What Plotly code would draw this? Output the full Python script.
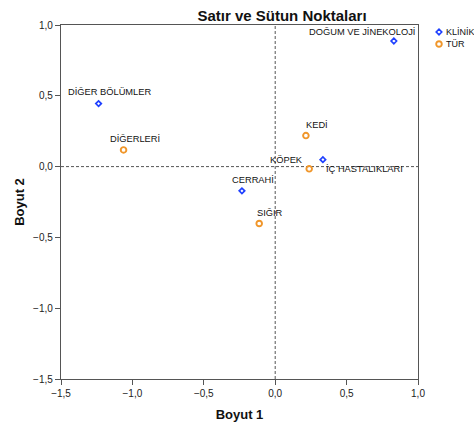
import plotly.graph_objects as go

# Correspondence analysis coordinates (dimension 1, dimension 2)
klinik_labels = ["DOĞUM VE JİNEKOLOJİ", "DİĞER BÖLÜMLER", "İÇ HASTALIKLARI", "CERRAHİ"]
klinik_dim1 = [0.831, -1.237, 0.334, -0.233]
klinik_dim2 = [0.887, 0.445, 0.049, -0.171]

tur_labels = ["DİĞERLERİ", "KEDİ", "KÖPEK", "SIĞIR"]
tur_dim1 = [-1.062, 0.215, 0.238, -0.112]
tur_dim2 = [0.118, 0.219, -0.016, -0.402]

series_names = ["KLİNİK", "TÜR"]
tick_values = [-1.5, -1.0, -0.5, 0.0, 0.5, 1.0]

# Styling
FONT = "Arial, Liberation Sans, sans-serif"
BLUE = "#1f40ff"
ORANGE = "#f0962a"
AXIS = "#555555"
W, H = 474, 426
ML, MT, MB = 61, 25, 47
PLOT_W = 357
PLOT_H = H - MT - MB

DIAMOND = dict(symbol="diamond-open", size=4.2, line_width=1.7)
CIRCLE = dict(symbol="circle-open", size=5.6, line_width=1.9)

# label anchor, horizontal shift, vertical shift (px)
LABEL_PLACEMENT = {
    "DOĞUM VE JİNEKOLOJİ": ("right", 23, 9),
    "DİĞER BÖLÜMLER": ("center", 11, 12),
    "İÇ HASTALIKLARI": ("left", 1, -9),
    "CERRAHİ": ("center", 11, 11),
    "DİĞERLERİ": ("center", 11, 11),
    "KEDİ": ("center", 11, 11),
    "KÖPEK": ("right", -4, 9),
    "SIĞIR": ("center", 11, 11),
}


def marker_style(spec, color):
    return dict(symbol=spec["symbol"], size=spec["size"], color=color,
                line=dict(width=spec["line_width"], color=color))


fig = go.Figure()

fig.add_trace(go.Scatter(
    x=klinik_dim1, y=klinik_dim2, mode="markers", name=series_names[0],
    marker=marker_style(DIAMOND, BLUE), showlegend=False, cliponaxis=False,
))
fig.add_trace(go.Scatter(
    x=tur_dim1, y=tur_dim2, mode="markers", name=series_names[1],
    marker=marker_style(CIRCLE, ORANGE), showlegend=False, cliponaxis=False,
))

annotations = []
for labels, xs, ys in [(klinik_labels, klinik_dim1, klinik_dim2), (tur_labels, tur_dim1, tur_dim2)]:
    for lab, xv, yv in zip(labels, xs, ys):
        anchor, dx, dy = LABEL_PLACEMENT[lab]
        annotations.append(dict(
            x=xv, y=yv, xref="x", yref="y", text=lab, showarrow=False,
            xanchor=anchor, yanchor="middle", xshift=dx, yshift=dy,
            font=dict(family=FONT, size=9.3, color="#111111"),
        ))

# Key in the right strip, drawn on its own pixel-scaled axes
key_specs = [(DIAMOND, BLUE), (CIRCLE, ORANGE)]
KEY_X, KEY_TOP, KEY_STEP = 21, 7, 12
for i, name in enumerate(series_names):
    ky = KEY_TOP + i * KEY_STEP
    spec, color = key_specs[i]
    fig.add_trace(go.Scatter(
        x=[KEY_X], y=[ky], xaxis="x2", yaxis="y2", mode="markers", showlegend=False,
        marker=marker_style(spec, color), cliponaxis=False, hoverinfo="skip",
    ))
    annotations.append(dict(
        x=KEY_X + 5, y=ky, xref="x2", yref="y2", text=name, showarrow=False,
        xanchor="left", yanchor="middle", font=dict(family=FONT, size=9, color="#111111"),
    ))

split = PLOT_W / (W - ML)

axis_common = dict(
    range=[-1.5, 1.0], tickvals=tick_values, tickformat=".1f",
    showgrid=False, zeroline=False, showline=True, linecolor=AXIS, linewidth=1.3,
    mirror=True, ticks="outside", ticklen=5, tickcolor=AXIS, tickwidth=1.2,
    tickfont=dict(family=FONT, size=10, color="#222222"),
)

fig.update_layout(
    width=W, height=H,
    margin=dict(l=ML, r=0, t=MT, b=MB, autoexpand=False),
    paper_bgcolor="white", plot_bgcolor="white",
    separators=", ",
    showlegend=False,
    title=dict(text="<b>Satır ve Sütun Noktaları</b>", xref="container", yref="container",
               x=282 / W, y=1 - 16 / H, xanchor="center", yanchor="middle",
               font=dict(family=FONT, size=15, color="#111111")),
    xaxis=dict(axis_common, domain=[0, split],
               title=dict(text="<b>Boyut 1</b>", standoff=11,
                          font=dict(family=FONT, size=13, color="#111111"))),
    yaxis=dict(axis_common, domain=[0, 1],
               title=dict(text="<b>Boyut 2</b>", standoff=5,
                          font=dict(family=FONT, size=13, color="#111111"))),
    xaxis2=dict(domain=[split, 1], range=[0, W - ML - PLOT_W], visible=False, fixedrange=True),
    yaxis2=dict(domain=[0, 1], range=[PLOT_H, 0], visible=False, fixedrange=True, anchor="x2"),
    annotations=annotations,
    shapes=[
        dict(type="line", xref="x", yref="paper", x0=0, x1=0, y0=0, y1=1,
             line=dict(color=AXIS, width=1, dash="3px,2px"), layer="below"),
        dict(type="line", xref="paper", yref="y", x0=0, x1=split, y0=0, y1=0,
             line=dict(color=AXIS, width=1, dash="3px,2px"), layer="below"),
    ],
)

fig.write_html("out.html")
